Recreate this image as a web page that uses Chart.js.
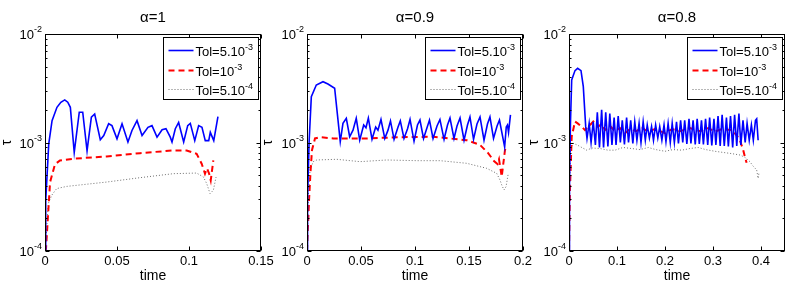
<!DOCTYPE html>
<html lang="en">
<head>
<meta charset="UTF-8">
<title>tau vs time</title>
<style>
  body { margin: 0; background: #fff; }
  #wrap { position: relative; width: 798px; height: 287px; }
  #wrap canvas { position: absolute; left: 0; top: 0; }
</style>
</head>
<body>
<div id="wrap">
  <canvas id="c1" width="798" height="287"></canvas>
  <canvas id="c2" width="798" height="287"></canvas>
  <canvas id="c3" width="798" height="287"></canvas>
</div>
<script src="https://cdn.jsdelivr.net/npm/chart.js"></script>
<script>
// panel titles, axis ranges and tick values
const titles = ['α=1', 'α=0.9', 'α=0.8'];
const xMax = [0.15, 0.2, 0.45];
const xTicks1 = [0, 0.05, 0.1, 0.15];
const xTicks2 = [0, 0.05, 0.1, 0.15, 0.2];
const xTicks3 = [0, 0.1, 0.2, 0.3, 0.4];
const yExps = [-4, -3, -2];
const labels = ['Tol=5.10^-3', 'Tol=10^-3', 'Tol=5.10^-4'];

// [time, tau]
// alpha = 1
const a1Tol5e3 = [[0,1.0e-4],[0.0005,2.9e-4],[0.0026,9.7e-4],[0.0049,1.59e-3],[0.0083,2.11e-3],[0.011,2.35e-3],[0.0137,2.47e-3],[0.0158,2.35e-3],[0.0176,2.11e-3],[0.0203,8.1e-4],[0.0238,1.9e-3],[0.0262,1.9e-3],[0.0292,8.4e-4],[0.0322,1.71e-3],[0.0345,1.83e-3],[0.0384,1.06e-3],[0.0408,1.16e-3],[0.0442,1.49e-3],[0.0465,1.43e-3],[0.05,1.08e-3],[0.0535,1.49e-3],[0.0576,1.01e-3],[0.0604,1.29e-3],[0.0639,1.59e-3],[0.0674,1.16e-3],[0.0715,1.38e-3],[0.0743,1.43e-3],[0.0778,1.12e-3],[0.0813,1.31e-3],[0.084,1.34e-3],[0.087,1.12e-3],[0.0882,1.01e-3],[0.0905,1.34e-3],[0.0928,1.53e-3],[0.0963,1.01e-3],[0.0991,1.43e-3],[0.1009,1.5e-3],[0.104,1.04e-3],[0.1067,1.43e-3],[0.109,1.38e-3],[0.1113,1.04e-3],[0.1137,1.04e-3],[0.1148,1.24e-3],[0.1172,1.04e-3],[0.1201,1.73e-3]];
const a1Tol1e3 = [[0,1.0e-4],[0.0007,1.05e-4],[0.0035,4.3e-4],[0.0069,6.28e-4],[0.0104,6.84e-4],[0.0197,7.09e-4],[0.0428,7.44e-4],[0.066,7.98e-4],[0.0891,8.45e-4],[0.0984,8.45e-4],[0.1053,7.87e-4],[0.1088,6.38e-4],[0.1111,5.16e-4],[0.1125,5.77e-4],[0.1139,5.2e-4],[0.1151,4.48e-4],[0.1169,6.84e-4]];
const a1Tol5e4 = [[0,1.0e-4],[0.0007,1.3e-4],[0.0023,2.74e-4],[0.0047,3.27e-4],[0.0081,3.76e-4],[0.0151,3.94e-4],[0.0428,4.32e-4],[0.066,4.74e-4],[0.0891,5.16e-4],[0.1053,5.23e-4],[0.11,4.81e-4],[0.1123,4.18e-4],[0.1146,3.38e-4],[0.1169,3.63e-4],[0.1188,4.81e-4]];

// alpha = 0.9
const a09Tol5e3 = [[0,1.0e-4],[0.0005,2.95e-4],[0.0019,9.9e-4],[0.004,2.64e-3],[0.0086,3.39e-3],[0.0148,3.63e-3],[0.0194,3.46e-3],[0.0256,3.16e-3],[0.0308,1.02e-3],[0.0333,1.5e-3],[0.0364,1.67e-3],[0.0395,1.13e-3],[0.0426,1.3e-3],[0.0456,1.67e-3],[0.0488,1.05e-3],[0.0525,1.45e-3],[0.0546,1.37e-3],[0.0568,1.68e-3],[0.0602,1.07e-3],[0.0636,1.39e-3],[0.0657,1.3e-3],[0.0685,1.63e-3],[0.072,1.09e-3],[0.075,1.3e-3],[0.0773,1.58e-3],[0.0806,1.07e-3],[0.0843,1.39e-3],[0.0864,1.58e-3],[0.0898,1.09e-3],[0.0931,1.34e-3],[0.0954,1.63e-3],[0.0991,1.03e-3],[0.1023,1.45e-3],[0.1046,1.61e-3],[0.1079,1.09e-3],[0.1111,1.37e-3],[0.1134,1.61e-3],[0.1167,1.09e-3],[0.1204,1.42e-3],[0.1231,1.63e-3],[0.1269,1.07e-3],[0.1301,1.45e-3],[0.1324,1.68e-3],[0.1361,1.09e-3],[0.1389,1.42e-3],[0.1417,1.68e-3],[0.1454,1.05e-3],[0.1486,1.45e-3],[0.1509,1.72e-3],[0.1542,1.07e-3],[0.1574,1.48e-3],[0.1602,1.72e-3],[0.1639,1.05e-3],[0.1671,1.48e-3],[0.1694,1.72e-3],[0.1727,1.09e-3],[0.176,1.42e-3],[0.1782,1.61e-3],[0.183,9.1e-4],[0.1845,1.39e-3],[0.1856,1.45e-3],[0.1866,1.24e-3],[0.1884,1.8e-3]];
const a09Tol1e3 = [[0,1.0e-4],[0.0019,2.95e-4],[0.0032,5.24e-4],[0.0046,8.5e-4],[0.0074,1.09e-3],[0.012,1.12e-3],[0.0244,1.09e-3],[0.0553,1.09e-3],[0.0861,1.12e-3],[0.117,1.13e-3],[0.1479,1.05e-3],[0.1602,9.5e-4],[0.1679,7.95e-4],[0.1731,6.75e-4],[0.1764,6.33e-4],[0.1778,7.0e-4],[0.1803,4.84e-4],[0.1815,6.07e-4],[0.1833,8.5e-4],[0.1847,9.5e-4]];
const a09Tol5e4 = [[0,1.0e-4],[0.0012,3.16e-4],[0.0028,5.58e-4],[0.0058,6.66e-4],[0.009,6.9e-4],[0.0275,7.0e-4],[0.0491,6.66e-4],[0.0738,6.9e-4],[0.1016,6.8e-4],[0.1231,6.8e-4],[0.1479,6.43e-4],[0.1664,5.78e-4],[0.1756,5.2e-4],[0.1787,4.51e-4],[0.1803,4.06e-4],[0.1824,3.65e-4],[0.1843,3.92e-4],[0.1864,5.2e-4]];

// alpha = 0.8
const a08Tol5e3 = [[0,1.0e-4],[0.001,4.0e-4],[0.003,1.5e-3],[0.0056,3.77e-3],[0.0125,4.6e-3],[0.018,4.83e-3],[0.025,4.6e-3],[0.0298,3.27e-3],[0.0348,1.4e-3],[0.0375,1.09e-3],[0.042,1.5e-3],[0.046,1.0e-3],[0.0505,1.55e-3],[0.055,9.5e-4],[0.059,1.9e-3],[0.0635,9.0e-4],[0.068,2.0e-3],[0.072,9.0e-4],[0.0765,1.9e-3],[0.081,9.2e-4],[0.085,1.85e-3],[0.0895,9.5e-4],[0.094,1.7e-3],[0.098,9.5e-4],[0.1025,1.75e-3],[0.107,1.0e-3],[0.111,1.6e-3],[0.1155,9.6e-4],[0.12,1.7e-3],[0.124,1.0e-3],[0.1285,1.6e-3],[0.133,9.8e-4],[0.137,1.55e-3],[0.1415,1.05e-3],[0.146,1.5e-3],[0.15,1.0e-3],[0.1545,1.55e-3],[0.159,1.05e-3],[0.163,1.45e-3],[0.1675,1.1e-3],[0.172,1.4e-3],[0.176,1.05e-3],[0.1805,1.45e-3],[0.185,1.1e-3],[0.189,1.4e-3],[0.1935,1.05e-3],[0.198,1.45e-3],[0.202,1.02e-3],[0.2065,1.5e-3],[0.211,1.0e-3],[0.215,1.5e-3],[0.2195,1.0e-3],[0.224,1.55e-3],[0.228,9.8e-4],[0.2325,1.6e-3],[0.237,1.0e-3],[0.241,1.6e-3],[0.2455,9.7e-4],[0.25,1.65e-3],[0.254,9.8e-4],[0.2585,1.6e-3],[0.263,9.6e-4],[0.267,1.65e-3],[0.2715,9.7e-4],[0.276,1.6e-3],[0.28,9.6e-4],[0.2845,1.65e-3],[0.289,9.5e-4],[0.293,1.7e-3],[0.2975,9.4e-4],[0.302,1.65e-3],[0.306,9.5e-4],[0.3105,1.75e-3],[0.315,9.3e-4],[0.319,1.8e-3],[0.3235,9.3e-4],[0.328,1.7e-3],[0.332,9.2e-4],[0.3365,1.75e-3],[0.341,9.0e-4],[0.345,1.8e-3],[0.3495,9.3e-4],[0.354,1.85e-3],[0.358,9.5e-4],[0.3625,1.6e-3],[0.367,1.0e-3],[0.371,1.5e-3],[0.3755,1.05e-3],[0.38,1.45e-3],[0.384,1.05e-3],[0.3885,1.6e-3],[0.391,1.65e-3],[0.394,1.05e-3]];
const a08Tol1e3 = [[0,1.0e-4],[0.002,3.65e-4],[0.0056,1.13e-3],[0.0125,1.56e-3],[0.018,1.5e-3],[0.0265,1.4e-3],[0.0333,1.3e-3],[0.04,1.39e-3],[0.0506,1.56e-3],[0.0604,1.4e-3],[0.0688,1.48e-3],[0.075,1.3e-3],[0.0854,1.42e-3],[0.096,1.27e-3],[0.106,1.36e-3],[0.1167,1.22e-3],[0.127,1.33e-3],[0.14,1.27e-3],[0.152,1.36e-3],[0.165,1.26e-3],[0.179,1.33e-3],[0.2,1.22e-3],[0.2146,1.33e-3],[0.231,1.27e-3],[0.252,1.36e-3],[0.273,1.27e-3],[0.29,1.36e-3],[0.304,1.26e-3],[0.319,1.33e-3],[0.339,1.3e-3],[0.349,1.17e-3],[0.356,1.05e-3],[0.363,8.5e-4],[0.3667,7.3e-4],[0.37,6.5e-4]];
const a08Tol5e4 = [[0,1.0e-4],[0.001,2.95e-4],[0.003,8.5e-4],[0.0083,9.85e-4],[0.0167,9.5e-4],[0.0265,9.0e-4],[0.037,8.5e-4],[0.048,8.9e-4],[0.0646,8.8e-4],[0.081,8.5e-4],[0.096,8.5e-4],[0.1125,9.0e-4],[0.1306,8.8e-4],[0.148,8.6e-4],[0.165,9.0e-4],[0.181,8.6e-4],[0.2,8.3e-4],[0.2167,8.6e-4],[0.235,8.5e-4],[0.252,8.8e-4],[0.269,9.0e-4],[0.285,8.6e-4],[0.304,8.3e-4],[0.321,8.1e-4],[0.339,7.9e-4],[0.356,7.67e-4],[0.3667,7.3e-4],[0.377,6.65e-4],[0.383,6.1e-4],[0.391,5.58e-4],[0.394,4.67e-4],[0.396,5.3e-4]];

Chart.defaults.font.family = '"Liberation Sans", Arial, sans-serif';
Chart.defaults.color = '#000';

// box, inward ticks, 10^n labels, title and legend drawn the matlab way
const matlabBox = {
  id: 'matlabBox',
  afterDraw(chart, args, opts) {
    const { ctx, chartArea: a, scales: { x, y } } = chart;
    const L = Math.round(a.left) + 0.5, R = Math.round(a.right) - 0.5;
    const T = Math.round(a.top) + 0.5, B = Math.round(a.bottom) - 0.5;
    ctx.save();
    ctx.strokeStyle = '#000';
    ctx.lineWidth = 1;
    ctx.setLineDash([]);
    ctx.strokeRect(L, T, R - L, B - T);

    ctx.beginPath();
    for (let d = yExps[0]; d <= yExps[yExps.length - 1]; d++) {
      for (let m = 1; m <= 9; m++) {
        const v = m * Math.pow(10, d);
        if (v > y.max * 1.0001) break;
        const py = Math.round(y.getPixelForValue(v)) + 0.5;
        const len = m === 1 ? 4 : 2;
        ctx.moveTo(L, py); ctx.lineTo(L + len, py);
        ctx.moveTo(R, py); ctx.lineTo(R - len, py);
      }
    }
    x.ticks.forEach(t => {
      const px = Math.round(x.getPixelForValue(t.value)) + 0.5;
      ctx.moveTo(px, B); ctx.lineTo(px, B - 4);
      ctx.moveTo(px, T); ctx.lineTo(px, T + 4);
    });
    ctx.stroke();

    // y tick labels 10^n
    ctx.fillStyle = '#000';
    ctx.textBaseline = 'alphabetic';
    yExps.forEach(e => {
      const py = y.getPixelForValue(Math.pow(10, e));
      ctx.font = '9px "Liberation Sans", Arial, sans-serif';
      const sup = String(e);
      const sw = ctx.measureText(sup).width;
      ctx.textAlign = 'left';
      const xr = a.left - 3;
      ctx.fillText(sup, xr - sw, py - 2);
      ctx.font = '13px "Liberation Sans", Arial, sans-serif';
      ctx.textAlign = 'right';
      ctx.fillText('10', xr - sw, py + 5);
    });

    // title
    ctx.font = '15px "Liberation Sans", Arial, sans-serif';
    ctx.textAlign = 'center';
    ctx.textBaseline = 'middle';
    ctx.fillText(opts.title, (a.left + a.right) / 2, 18);

    // legend box
    const bw = 95, bh = 62;
    const bx = Math.round(a.right) - 3 - bw + 0.5, by = Math.round(a.top) + 3 + 0.5;
    ctx.fillStyle = '#fff';
    ctx.fillRect(bx, by, bw, bh);
    ctx.strokeStyle = '#000';
    ctx.lineWidth = 1;
    ctx.strokeRect(bx, by, bw, bh);
    const rows = [13, 33, 52];
    chart.data.datasets.forEach((ds, i) => {
      const ry = by + rows[i];
      ctx.save();
      ctx.strokeStyle = ds.borderColor;
      ctx.lineWidth = ds.borderWidth;
      ctx.setLineDash(ds.borderDash || []);
      ctx.beginPath();
      ctx.moveTo(bx + 5, ry); ctx.lineTo(bx + 30, ry);
      ctx.stroke();
      ctx.restore();
      const [base, exp] = ds.label.split('^');
      ctx.fillStyle = '#000';
      ctx.textAlign = 'left';
      ctx.textBaseline = 'alphabetic';
      ctx.font = '13px "Liberation Sans", Arial, sans-serif';
      ctx.fillText(base, bx + 32, ry + 5);
      const w = ctx.measureText(base).width;
      ctx.font = '9px "Liberation Sans", Arial, sans-serif';
      ctx.fillText(exp, bx + 32 + w, ry - 1);
    });
    ctx.restore();
  }
};

function toXY(pairs) {
  return pairs.map(p => ({ x: p[0], y: p[1] }));
}

function makePanel(id, k, series, ticks, padLeft, padRight, yTitlePad) {
  new Chart(document.getElementById(id), {
    type: 'line',
    data: {
      datasets: [
        { label: labels[0], data: toXY(series[0]), borderColor: '#0000ff', borderWidth: 1.6 },
        { label: labels[1], data: toXY(series[1]), borderColor: '#ff0000', borderWidth: 2, borderDash: [6, 4] },
        { label: labels[2], data: toXY(series[2]), borderColor: '#6e6e6e', borderWidth: 1, borderDash: [1, 2] }
      ]
    },
    options: {
      responsive: false,
      animation: false,
      devicePixelRatio: 1,
      layout: { padding: { left: padLeft, right: padRight, top: 34, bottom: 0 } },
      elements: { point: { radius: 0 }, line: { tension: 0, fill: false } },
      scales: {
        x: {
          type: 'linear',
          min: 0,
          max: xMax[k],
          afterBuildTicks: s => { s.ticks = ticks.map(v => ({ value: v })); },
          afterFit: s => { s.height = 36; },
          grid: { display: false, drawTicks: false },
          border: { display: false },
          ticks: {
            padding: 3,
            maxRotation: 0,
            autoSkip: false,
            font: { size: 13 },
            callback: v => String(+v.toFixed(2))
          },
          title: { display: true, text: 'time', font: { size: 14 }, padding: { top: 0, bottom: 2 } }
        },
        y: {
          type: 'logarithmic',
          min: 1e-4,
          max: 1e-2,
          afterFit: s => { s.width = 45; },
          grid: { display: false, drawTicks: false },
          border: { display: false },
          ticks: { display: false },
          title: { display: true, text: 'τ', font: { size: 14 }, padding: { top: yTitlePad, bottom: 0 } }
        }
      },
      plugins: {
        legend: { display: false },
        tooltip: { enabled: false },
        matlabBox: { title: titles[k] }
      }
    },
    plugins: [matlabBox]
  });
}

makePanel('c1', 0, [a1Tol5e3, a1Tol1e3, a1Tol5e4], xTicks1, 0, 537, -1);
makePanel('c2', 1, [a09Tol5e3, a09Tol1e3, a09Tol5e4], xTicks2, 262, 275, -2);
makePanel('c3', 2, [a08Tol5e3, a08Tol1e3, a08Tol5e4], xTicks3, 524, 13, 2);
</script>
</body>
</html>
